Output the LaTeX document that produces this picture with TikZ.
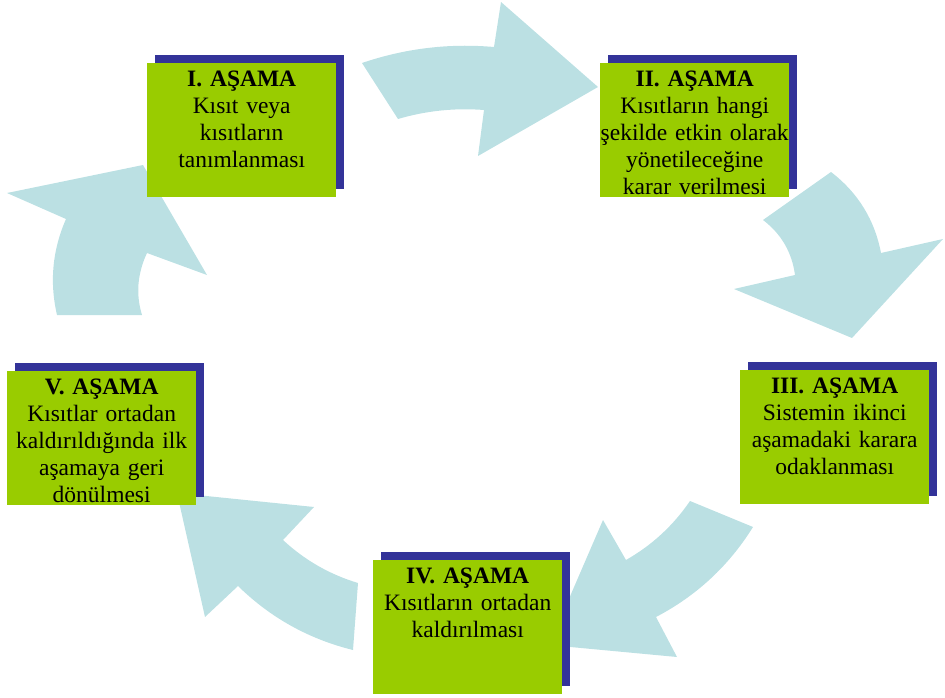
\documentclass[tikz,border=0pt]{standalone}
\usepackage{fontspec}
\setmainfont{Liberation Serif}
\usetikzlibrary{shadows,calc}
\definecolor{boxgreen}{HTML}{99CC00}
\definecolor{shadowblue}{HTML}{333399}
\definecolor{arrowblue}{HTML}{BBE0E3}
\begin{document}
\begin{tikzpicture}[x=1pt,y=-1pt,
  stagebox/.style={fill=boxgreen, draw=none, minimum width=189pt, minimum height=134pt, inner sep=0pt, anchor=north west,
    drop shadow={shadow xshift=8pt, shadow yshift=8pt, fill=shadowblue, opacity=1}},
  stagetext/.style={anchor=north, text width=189pt, align=center, inner sep=0pt, font=\fontsize{23.5}{27}\selectfont},
  cyclearrow/.style={fill=arrowblue, draw=none}]
\useasboundingbox (0,0) rectangle (945,698);
% curved block arrows (quadratic arcs written as cubic curves)
\fill[cyclearrow] (362,63) .. controls ($(362,63)!2/3!(426.3,41.1)$) and ($(494,47)!2/3!(426.3,41.1)$) .. (494,47)
  -- (501,2) -- (598,87) -- (478,156) -- (484,110)
  .. controls ($(484,110)!2/3!(440.2,106.6)$) and ($(398,119)!2/3!(440.2,106.6)$) .. (398,119) -- cycle;
\fill[cyclearrow] (831,172) .. controls ($(831,172)!2/3!(871.4,203)$) and ($(881,253)!2/3!(871.4,203)$) .. (881,253)
  -- (943,239) -- (852,338) -- (734,289) -- (795,275)
  .. controls ($(795,275)!2/3!(790.4,240.9)$) and ($(763,220)!2/3!(790.4,240.9)$) .. (763,220) -- cycle;
\fill[cyclearrow] (753,527) .. controls ($(753,527)!2/3!(716.8,585.2)$) and ($(656,617)!2/3!(716.8,585.2)$) .. (656,617)
  -- (677,657) -- (549,645) -- (603,520) -- (626,560)
  .. controls ($(626,560)!2/3!(664.8,537.9)$) and ($(690,501)!2/3!(664.8,537.9)$) .. (690,501) -- cycle;
\fill[cyclearrow] (353,650) .. controls ($(353,650)!2/3!(286.8,633.7)$) and ($(238,586)!2/3!(286.8,633.7)$) .. (238,586)
  -- (205,617) -- (177,493) -- (314,507) -- (283,540)
  .. controls ($(283,540)!2/3!(315.5,570.2)$) and ($(358,583)!2/3!(315.5,570.2)$) .. (358,583) -- cycle;
\fill[cyclearrow] (57,315) .. controls ($(57,315)!2/3!(45.6,265.6)$) and ($(66,219)!2/3!(45.6,265.6)$) .. (66,219)
  -- (7,193) -- (143,165) -- (207,275) -- (147,253)
  .. controls ($(147,253)!2/3!(132.5,284)$) and ($(142,315)!2/3!(132.5,284)$) .. (142,315) -- cycle;
% stage boxes
\node[stagebox] (b1) at (147,63) {};
\node[stagebox] (b2) at (600,63) {};
\node[stagebox] (b3) at (740,370) {};
\node[stagebox] (b4) at (373,560) {};
\node[stagebox] (b5) at (7,371) {};
% texts
\node[stagetext] (t1) at ([yshift=-7.4pt]b1.north) {\textbf{I. AŞAMA}\\Kısıt veya\\kısıtların\\tanımlanması};
\node[stagetext] (t2) at ([yshift=-7.4pt]b2.north) {\textbf{II. AŞAMA}\\Kısıtların hangi\\şekilde etkin olarak\\yönetileceğine\\karar verilmesi};
\node[stagetext] (t3) at ([yshift=-7.4pt]b3.north) {\textbf{III. AŞAMA}\\Sistemin ikinci\\aşamadaki karara\\odaklanması};
\node[stagetext] (t4) at ([yshift=-7.4pt]b4.north) {\textbf{IV. AŞAMA}\\Kısıtların ortadan\\kaldırılması};
\node[stagetext] (t5) at ([yshift=-7.4pt]b5.north) {\textbf{V. AŞAMA}\\Kısıtlar ortadan\\kaldırıldığında ilk\\aşamaya geri\\dönülmesi};
\end{tikzpicture}
\end{document}
